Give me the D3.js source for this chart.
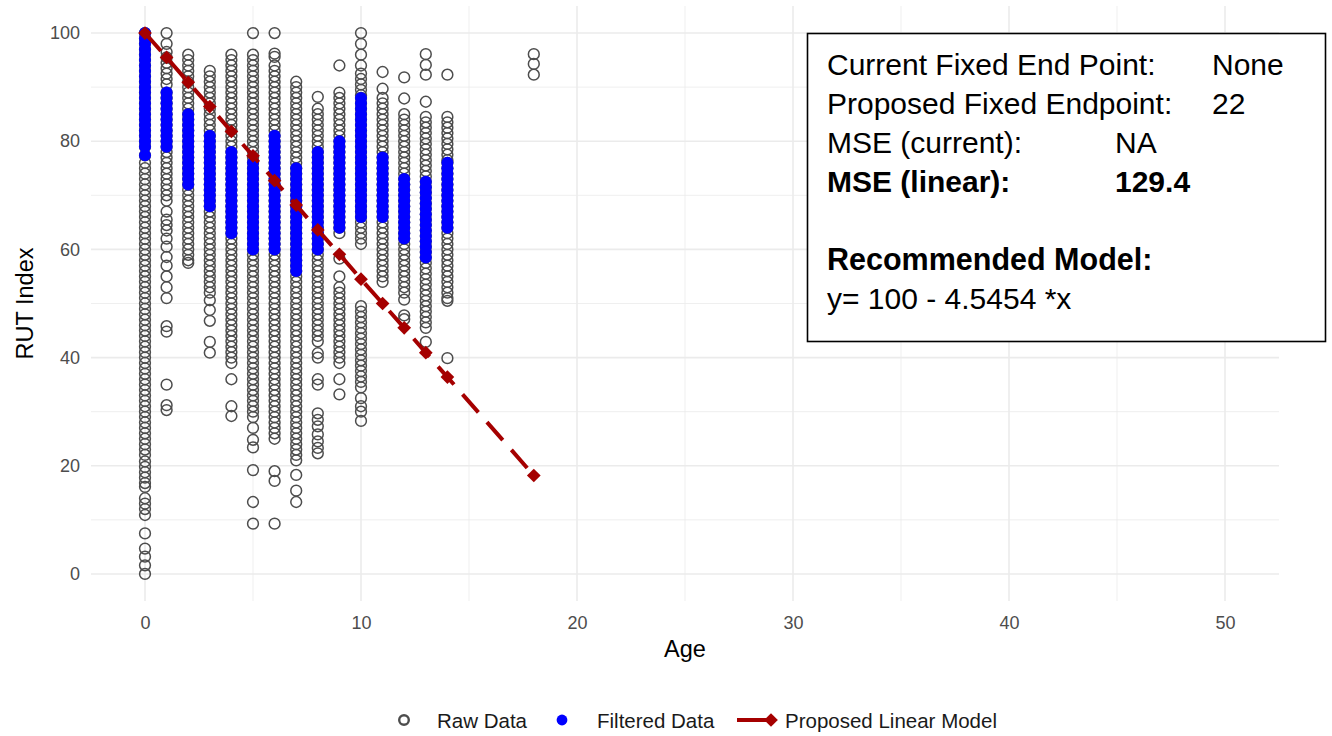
<!DOCTYPE html>
<html>
<head>
<meta charset="utf-8">
<script src="https://cdn.jsdelivr.net/npm/d3@7"></script>
<style>
  html, body { margin: 0; padding: 0; background: #fff; }
  svg { display: block; font-family: "Liberation Sans", Arial, sans-serif; }
</style>
</head>
<body>
<svg id="chart" width="1332" height="736"></svg>
<script>
// ---------------- DATA ----------------
const ages = [0, 1, 2, 3, 4, 5, 6, 7, 8, 9, 10, 11, 12, 13, 14, 18];

// Raw observations outside the filtered band (per age, same order as ages)
const rawOutside = [
  // age 0
  [76,75,74,73,72,71,70,69,68,67,66,65,64,63,62,61,60,59,58,57,56,55,54,53,52,51,50,49,48,47,46,45,44,43,42,41,40,39,38,37,36,35,34,33,32,31,30,29,28,27,26,25,24,23,22,20.8,19.8,18.8,17.8,16.8,16.1,14,13,12,10.9,7.5,4.7,3.2,1.6,0],
  // age 1
  [100,98,96.5,95.5,94.5,93.5,92.5,91.5,90.5,78,77,76,75,74,73,72,71,70,69,67,65.5,64.5,63.5,62,60.5,58.6,57,55,53,51,45.8,44.8,35,31.2,30.3],
  // age 2
  [96,95,94,93,92,91,90,89,88,87,86,71,70,69,68,67,66,65,64,63,62,61,60,59,58,57.5],
  // age 3
  [93,92,91,90,89,88,87,86,85,84,83,82,67,66,65,64,63,62,61,60,59,58,57,56,55,54,53,52,50.6,48.8,46.8,42.9,40.9],
  // age 4
  [96,95,94,93,92,91,90,89,88,87,86,85,84,83,82,81,80,79,62,61,60,59,58,57,56,55,54,53,52,51,50,49,48,47,46,45,44,43,42,41,40,39,36,31,29.2],
  // age 5
  [100,96,95,94,93,92,91,90,89,88,87,86,85,84,83,82,81,80,79,78,77,59,58,57,56,55,54,53,52,51,50,49,48,47,46,45,44,43,42,41,40,39,38,37,36,35,34,33,32,31,30,29,27,24.8,23.4,19.2,13.3,9.3],
  // age 6
  [100,96.2,95.6,94,93,92,91,90,89,88,87,86,85,84,83,82,59,58,57,56,55,54,53,52,51,50,49,48,47,46,45,44,43,42,41,40,39,38,37,36,35,34,33,32,31,30,29,28,27,26,25,19,17.2,9.3],
  // age 7
  [91,90,89,88,87,86,85,84,83,82,81,80,79,78,77,76,55,54,53,52,51,50,49,48,47,46,45,44,43,42,41,40,39,38,37,36,35,34,33,32,31,30,29,28,27,26,25,24,23,22,21,18.3,15.4,13.3],
  // age 8
  [88.2,86,85,84,83,82,81,80,79,59,58,57,56,55,54,53,52,51,50,49,48,47,46,45,44,43,40.8,40,36,35,29.7,28.5,27.3,25.8,24.5,23.3,22.3],
  // age 9
  [94,89,88,87,86,85,84,83,82,81,63,58.3,55,53,52,51,50,49,48,47,46,45,44,43,42,41,40,39,36,33.2],
  // age 10
  [100,98,96,94,92.5,91.5,90.5,89.5,88.5,65,64,63,62,61,49.5,48.5,47.5,46.5,45.5,44.5,43.5,42.5,41.5,40.5,39.5,38.5,37.5,36.5,35.5,34.5,32.5,31,30,28.3],
  // age 11
  [92.8,89.7,88,87,86,85,84,83,82,81,80,79,78,65,64,63,62,61,60,59,58,57,56,55,54],
  // age 12
  [91.8,87.9,85,84,83,82,81,80,79,78,77,76,75,74,61,60,59,58,57,56,55,54,53,52,50.7,47.8,47.1],
  // age 13
  [96.1,94.1,92.3,87.3,84.5,83.5,82.5,81.5,80.5,79.5,78.5,77.5,76.5,75.5,74.5,73.5,57.5,56.5,55.5,54.5,53.5,52.5,51.5,50.5,49.5,48.5,47.5,46.5,45.5,42.9],
  // age 14
  [92.3,84.5,83.5,82.5,81.5,80.5,79.5,78.5,77.5,76.5,63,62,61,60,59,58,57,56,55,54,53,52,51,50.5,39.9],
  // age 18
  [96.1,94.3,92.3]
];

// Filtered observations (blue band) per age
const filteredValues = [
  [100,99,98,97,96,95,94,93,92,91,90,89,88,87,86,85,84,83,82,81,80,79,77.4],
  [89,88,87,86,85,84,83,82,81,80,79],
  [85,84,83,82,81,80,79,78,77,76,75,74,73,72],
  [81,80,79,78,77,76,75,74,73,72,71,70,69,68],
  [78,77,76,75,74,73,72,71,70,69,68,67,66,65,64,63],
  [76,75,74,73,72,71,70,69,68,67,66,65,64,63,62,61,60],
  [81,80,79,78,77,76,75,74,73,72,71,70,69,68,67,66,65,64,63,62,61,60],
  [75,74,73,72,71,70,69,68,67,66,65,64,63,62,61,60,59,58,57,56],
  [78,77,76,75,74,73,72,71,70,69,68,67,66,65,64,63,62,61,60],
  [80,79,78,77,76,75,74,73,72,71,70,69,68,67,66,65,64],
  [88,87,86,85,84,83,82,81,80,79,78,77,76,75,74,73,72,71,70,69,68,67,66],
  [77,76,75,74,73,72,71,70,69,68,67,66],
  [73,72,71,70,69,68,67,66,65,64,63,62],
  [72.5,71.5,70.5,69.5,68.5,67.5,66.5,65.5,64.5,63.5,62.5,61.5,60.5,59.5,58.5],
  [76,75,74,73,72,71,70,69,68,67,66,65,64],
  []
];

// Proposed linear model (y = 100 - 4.5454 x) evaluated at the observed ages
const modelValues = [100, 95.5, 90.9, 86.4, 81.8, 77.3, 72.7, 68.2, 63.6, 59.1, 54.5, 50.0, 45.5, 40.9, 36.4, 18.2];

const xTicks = [0, 10, 20, 30, 40, 50];
const yTicks = [0, 20, 40, 60, 80, 100];
const legendLabels = ["Raw Data", "Filtered Data", "Proposed Linear Model"];
const infoRows = [
  ["Current Fixed End Point:", "None", false, 1212],
  ["Proposed Fixed Endpoint:", "22", false, 1212],
  ["MSE (current):", "NA", false, 1115],
  ["MSE (linear):", "129.4", true, 1115]
];
const recTitle = "Recommended Model:";
const recFormula = "y= 100 - 4.5454 *x";

// ---------------- CHART ----------------
const svg = d3.select("#chart");
const x = d3.scaleLinear().domain([-2.5, 52.5]).range([91, 1279]);
const y = d3.scaleLinear().domain([-5, 105]).range([601, 6]);

const gridColor = "#ebebeb";
const grid = svg.append("g");
// minor grid
grid.selectAll(".xminor").data(d3.range(5, 50, 10)).join("line")
  .attr("x1", d => x(d)).attr("x2", d => x(d)).attr("y1", y.range()[0]).attr("y2", y.range()[1])
  .attr("stroke", gridColor).attr("stroke-width", 0.8);
grid.selectAll(".yminor").data(d3.range(10, 100, 20)).join("line")
  .attr("y1", d => y(d)).attr("y2", d => y(d)).attr("x1", x.range()[0]).attr("x2", x.range()[1])
  .attr("stroke", gridColor).attr("stroke-width", 0.8);
// major grid
grid.selectAll(".xmajor").data(xTicks).join("line")
  .attr("x1", d => x(d)).attr("x2", d => x(d)).attr("y1", y.range()[0]).attr("y2", y.range()[1])
  .attr("stroke", gridColor).attr("stroke-width", 1.6);
grid.selectAll(".ymajor").data(yTicks).join("line")
  .attr("y1", d => y(d)).attr("y2", d => y(d)).attr("x1", x.range()[0]).attr("x2", x.range()[1])
  .attr("stroke", gridColor).attr("stroke-width", 1.6);

// axes (text only, like theme_minimal)
const xAxis = svg.append("g").attr("transform", `translate(0,${y.range()[0] + 5})`)
  .call(d3.axisBottom(x).tickValues(xTicks).tickSize(0).tickPadding(10));
xAxis.select(".domain").remove();
xAxis.selectAll("text").attr("fill", "#4d4d4d").attr("font-size", 18).attr("font-family", "Liberation Sans, Arial, sans-serif");

const yAxis = svg.append("g").attr("transform", `translate(${x.range()[0] - 4},0)`)
  .call(d3.axisLeft(y).tickValues(yTicks).tickSize(0).tickPadding(7));
yAxis.select(".domain").remove();
yAxis.selectAll("text").attr("fill", "#4d4d4d").attr("font-size", 18).attr("font-family", "Liberation Sans, Arial, sans-serif");

// axis titles
svg.append("text").attr("x", 685).attr("y", 657)
  .attr("text-anchor", "middle").attr("font-size", 23.5).attr("fill", "#000").text("Age");
svg.append("text").attr("transform", `translate(33,${(y.range()[0] + y.range()[1]) / 2}) rotate(-90)`)
  .attr("text-anchor", "middle").attr("font-size", 23.5).attr("fill", "#000").text("RUT Index");

// points
const rawPoints = [];
const filtPoints = [];
ages.forEach((a, i) => {
  rawOutside[i].concat(filteredValues[i]).forEach(v => rawPoints.push({ a, v }));
  filteredValues[i].forEach(v => filtPoints.push({ a, v }));
});
const R = 5.4;
svg.append("g").selectAll("circle").data(rawPoints).join("circle")
  .attr("cx", d => x(d.a)).attr("cy", d => y(d.v)).attr("r", R)
  .attr("fill", "none").attr("stroke", "#4d4d4d").attr("stroke-width", 1.5);
svg.append("g").selectAll("circle").data(filtPoints).join("circle")
  .attr("cx", d => x(d.a)).attr("cy", d => y(d.v)).attr("r", R + 0.6)
  .attr("fill", "#0000ff");

// model line
const red = "#a50000";
const modelData = ages.map((a, i) => ({ a, v: modelValues[i] }));
svg.append("path").datum(modelData)
  .attr("d", d3.line().x(d => x(d.a)).y(d => y(d.v)))
  .attr("fill", "none").attr("stroke", red).attr("stroke-width", 4)
  .attr("stroke-dasharray", "24,13");
const diamond = d3.symbol().type(d3.symbolDiamond2).size(120);
svg.append("g").selectAll("path").data(modelData).join("path")
  .attr("d", diamond).attr("transform", d => `translate(${x(d.a)},${y(d.v)})`)
  .attr("fill", red);

// legend
const ly = 720;
const lg = svg.append("g").attr("font-size", 20.5).attr("fill", "#1a1a1a");
lg.append("circle").attr("cx", 404).attr("cy", ly).attr("r", 4.8).attr("fill", "none").attr("stroke", "#4d4d4d").attr("stroke-width", 2.4);
lg.append("text").attr("x", 437).attr("y", ly + 7.5).text(legendLabels[0]);
lg.append("circle").attr("cx", 562).attr("cy", ly).attr("r", 5.4).attr("fill", "#0000ff");
lg.append("text").attr("x", 597).attr("y", ly + 7.5).text(legendLabels[1]);
lg.append("line").attr("x1", 737).attr("x2", 770).attr("y1", ly).attr("y2", ly).attr("stroke", red).attr("stroke-width", 4);
lg.append("path").attr("d", diamond).attr("transform", `translate(771,${ly})`).attr("fill", red);
lg.append("text").attr("x", 785).attr("y", ly + 7.5).text(legendLabels[2]);

// info box
const box = svg.append("g").attr("font-family", "Liberation Sans, Arial, sans-serif").attr("font-size", 30).attr("fill", "#000");
box.append("rect").attr("x", 807.5).attr("y", 33.5).attr("width", 518).attr("height", 308)
  .attr("fill", "#fff").attr("stroke", "#000").attr("stroke-width", 1.6);
const baselines = [75, 114, 153, 192];
infoRows.forEach((r, i) => {
  box.append("text").attr("x", 827).attr("y", baselines[i]).attr("font-weight", r[2] ? "bold" : "normal").text(r[0]);
  box.append("text").attr("x", r[3]).attr("y", baselines[i]).attr("font-weight", r[2] ? "bold" : "normal").text(r[1]);
});
box.append("text").attr("x", 827).attr("y", 270).attr("font-weight", "bold").attr("font-size", 30.5).text(recTitle);
box.append("text").attr("x", 827).attr("y", 309).text(recFormula);
</script>
</body>
</html>
